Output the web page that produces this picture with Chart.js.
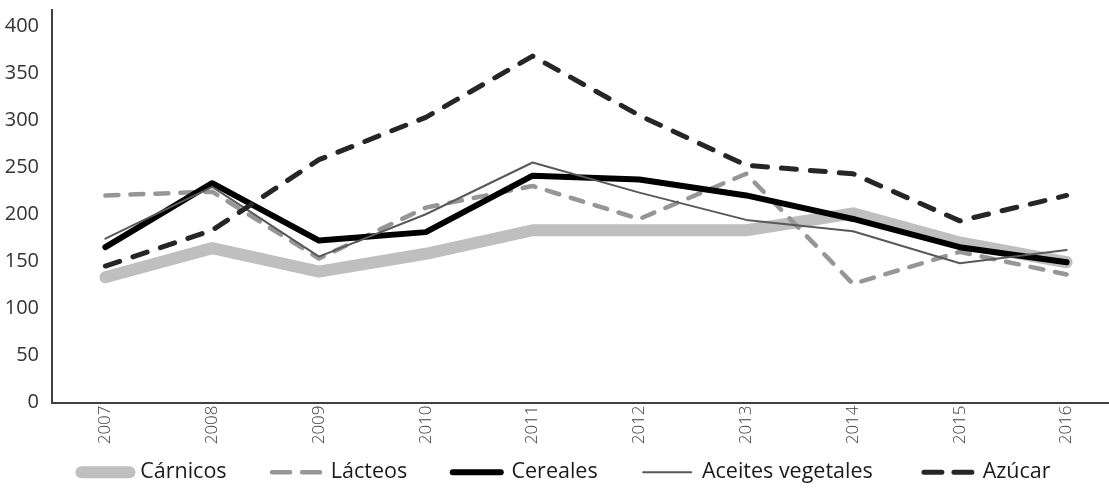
<!DOCTYPE html>
<html lang="es">
<head>
  <meta charset="utf-8">
  <title>Índices de precios</title>
  <script src="https://cdn.jsdelivr.net/npm/chart.js@4"></script>
  <style>
    html, body { margin: 0; padding: 0; background: #fff; overflow: hidden; }
    .wrapper { width: 1120px; height: 498px; }
  </style>
</head>
<body>
  <div class="wrapper">
    <canvas id="chart-0"></canvas>
  </div>

  <script>
    const years = ['2007', '2008', '2009', '2010', '2011', '2012', '2013', '2014', '2015', '2016'];
    const carnicos = [133, 164, 139, 158, 183, 183, 183, 201, 170, 149];
    const lacteos = [220, 224, 153, 207, 230, 195, 243, 126, 160, 136];
    const cereales = [165, 233, 172, 181, 241, 237, 220, 195, 165, 149];
    const aceites = [174, 229, 155, 200, 255, 223, 194, 182, 148, 162];
    const azucar = [145, 183, 258, 303, 368, 305, 252, 243, 193, 220];
    const yTicks = [0, 50, 100, 150, 200, 250, 300, 350, 400];

    const font = "'Open Sans', 'DejaVu Sans', sans-serif";
    // extra room after each legend entry (Excel spaces them wider than Chart.js)
    const legendGap = ['      ', '      ', '      ', '       ', ''];

    function line(label, data, color, width, dash, order) {
      return {
        label: label,
        data: data,
        borderColor: color,
        backgroundColor: color,
        borderWidth: width,
        borderDash: dash,
        borderCapStyle: 'round',
        borderJoinStyle: 'round',
        pointRadius: 0,
        pointHoverRadius: 0,
        pointStyle: 'line',
        tension: 0,
        fill: false,
        order: order
      };
    }

    // nudge the legend row to where Excel centres it
    const legendShift = {
      id: 'legendShift',
      afterLayout(chart) {
        chart.legend.left += 6;
        chart.legend.right += 6;
      }
    };

    new Chart('chart-0', {
      type: 'line',
      data: {
        labels: years,
        datasets: [
          line('Cárnicos', carnicos, '#bfbfbf', 12, [], 5),
          line('Lácteos', lacteos, '#969696', 4.5, [13, 12], 4),
          line('Cereales', cereales, '#000000', 6, [], 3),
          line('Aceites vegetales', aceites, '#595959', 2, [], 2),
          line('Azúcar', azucar, '#262626', 5, [15, 14], 1)
        ]
      },
      plugins: [legendShift],
      options: {
        responsive: true,
        maintainAspectRatio: false,
        animation: false,
        layout: {
          padding: { left: 0, top: 10, right: 0, bottom: 5 }
        },
        plugins: {
          tooltip: { enabled: false },
          legend: {
            position: 'bottom',
            align: 'center',
            labels: {
              usePointStyle: true,
              pointStyleWidth: 48,
              boxHeight: 12,
              padding: 12,
              color: '#1a1a1a',
              font: { family: font, size: 21.5 },
              sort: (a, b) => a.datasetIndex - b.datasetIndex,
              generateLabels: (chart) => {
                const items = Chart.defaults.plugins.legend.labels.generateLabels(chart);
                items.forEach(item => {
                  const ds = chart.data.datasets[item.datasetIndex];
                  item.lineDash = ds.borderDash.length ? [18, 12] : [];
                  item.lineCap = ds.borderCapStyle;
                  item.lineWidth = ds.borderWidth;
                  item.strokeStyle = ds.borderColor;
                  item.text = ds.label + legendGap[item.datasetIndex];
                });
                return items;
              }
            }
          }
        },
        scales: {
          x: {
            offset: true,
            grid: { display: false, drawTicks: false },
            border: { display: true, color: '#404040', width: 2 },
            afterFit: (scale) => { scale.height = 47; },
            ticks: {
              minRotation: 90,
              maxRotation: 90,
              padding: 3,
              color: '#404040',
              font: { family: font, size: 17, weight: '300' }
            }
          },
          y: {
            min: 0,
            max: 417,
            grid: { display: false, drawTicks: false },
            border: { display: true, color: '#404040', width: 2 },
            afterFit: (scale) => {
              scale.width = 52;
              scale.paddingTop = 0;
              scale.paddingBottom = 0;
            },
            afterBuildTicks: (scale) => {
              scale.ticks = yTicks.map(v => ({ value: v }));
            },
            ticks: {
              padding: 13,
              color: '#333333',
              font: { family: font, size: 20 }
            }
          }
        }
      }
    });
  </script>
</body>
</html>
